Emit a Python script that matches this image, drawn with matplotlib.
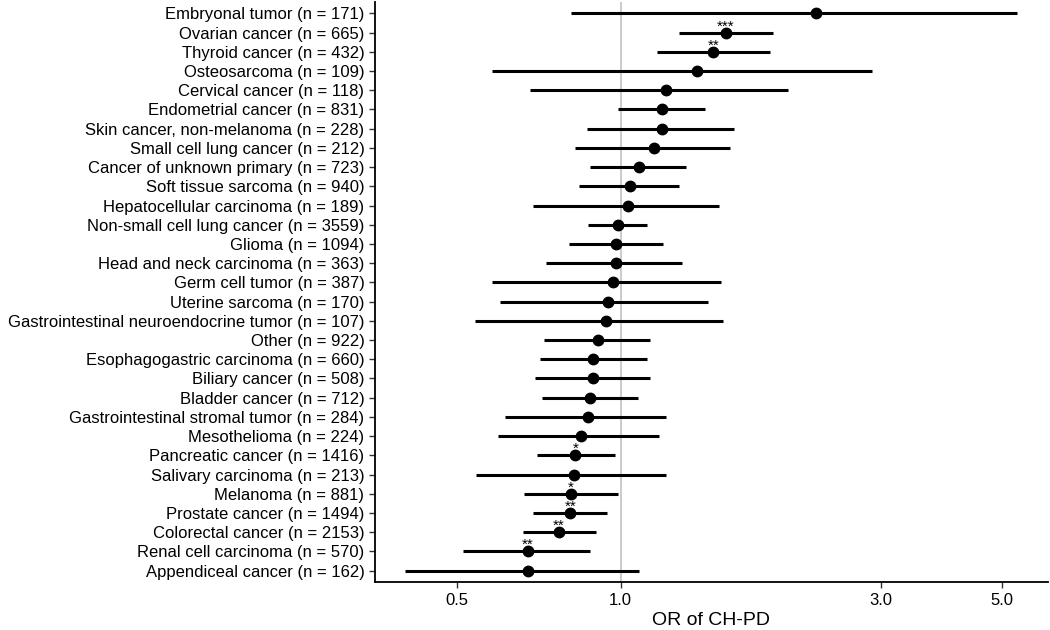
import numpy as np
import matplotlib
matplotlib.use("Agg")
import matplotlib.pyplot as plt

plt.rcParams['font.family'] = ['Liberation Sans', 'DejaVu Sans']

# cancer types, top to bottom
labels = ["Embryonal tumor (n = 171)", "Ovarian cancer (n = 665)", "Thyroid cancer (n = 432)",
          "Osteosarcoma (n = 109)", "Cervical cancer (n = 118)", "Endometrial cancer (n = 831)",
          "Skin cancer, non-melanoma (n = 228)", "Small cell lung cancer (n = 212)",
          "Cancer of unknown primary (n = 723)", "Soft tissue sarcoma (n = 940)",
          "Hepatocellular carcinoma (n = 189)", "Non-small cell lung cancer (n = 3559)",
          "Glioma (n = 1094)", "Head and neck carcinoma (n = 363)", "Germ cell tumor (n = 387)",
          "Uterine sarcoma (n = 170)", "Gastrointestinal neuroendocrine tumor (n = 107)",
          "Other (n = 922)", "Esophagogastric carcinoma (n = 660)", "Biliary cancer (n = 508)",
          "Bladder cancer (n = 712)", "Gastrointestinal stromal tumor (n = 284)",
          "Mesothelioma (n = 224)", "Pancreatic cancer (n = 1416)", "Salivary carcinoma (n = 213)",
          "Melanoma (n = 881)", "Prostate cancer (n = 1494)", "Colorectal cancer (n = 2153)",
          "Renal cell carcinoma (n = 570)", "Appendiceal cancer (n = 162)"]

odds = [2.28, 1.56, 1.48, 1.38, 1.21, 1.19, 1.19, 1.15, 1.08, 1.04,
        1.03, 0.99, 0.98, 0.98, 0.97, 0.95, 0.94, 0.91, 0.89, 0.89,
        0.88, 0.87, 0.845, 0.826, 0.822, 0.811, 0.808, 0.771, 0.675, 0.675]
ci_low = [0.811, 1.278, 1.164, 0.581, 0.682, 0.987, 0.868, 0.826, 0.878, 0.839,
          0.690, 0.873, 0.804, 0.730, 0.581, 0.602, 0.541, 0.723, 0.712, 0.696,
          0.718, 0.614, 0.597, 0.702, 0.542, 0.665, 0.692, 0.661, 0.514, 0.403]
ci_high = [5.34, 1.906, 1.883, 2.89, 2.025, 1.427, 1.614, 1.585, 1.319, 1.281,
           1.513, 1.116, 1.197, 1.295, 1.530, 1.448, 1.544, 1.133, 1.118, 1.133,
           1.076, 1.210, 1.177, 0.975, 1.210, 0.989, 0.946, 0.902, 0.878, 1.080]
stars = ["", "***", "**", "", "", "", "", "", "", "",
         "", "", "", "", "", "", "", "", "", "",
         "", "", "", "*", "", "*", "**", "**", "**", ""]

n = len(labels)
y = np.arange(n)[::-1]

fig = plt.figure(figsize=(10.5, 6.3), dpi=100)
ax = fig.add_axes([0.357, 0.076, 0.641, 0.921])

ax.axvline(1.0, color='#bdbdbd', lw=1.1, zorder=1)
ax.hlines(y, ci_low, ci_high, color='black', lw=2.2, zorder=2)
ax.plot(odds, y, 'o', color='black', ms=7.5, zorder=3)
for yi, o, s in zip(y, odds, stars):
    if s:
        ax.text(o, yi + 0.12, s, ha='center', va='baseline', fontsize=11)

ax.set_xscale('log')
lo, hi = np.log10(min(ci_low)), np.log10(max(ci_high))
pad = 0.05 * (hi - lo)
ax.set_xlim(10 ** (lo - pad), 10 ** (hi + pad))
ax.set_ylim(-0.6, n - 1 + 0.6)
ax.set_xticks([0.5, 1.0, 3.0, 5.0])
ax.set_xticklabels(["0.5", "1.0", "3.0", "5.0"])
ax.xaxis.set_minor_locator(matplotlib.ticker.NullLocator())
ax.set_yticks(y)
ax.set_yticklabels(labels)
ax.tick_params(axis='both', labelsize=12, length=4, width=1, color='#333333', labelcolor='black')
ax.set_xlabel("OR of CH-PD", fontsize=14, labelpad=3)

for side in ['top', 'right']:
    ax.spines[side].set_visible(False)
for side in ['left', 'bottom']:
    ax.spines[side].set_linewidth(1.3)

plt.savefig('out.png', dpi=100)
